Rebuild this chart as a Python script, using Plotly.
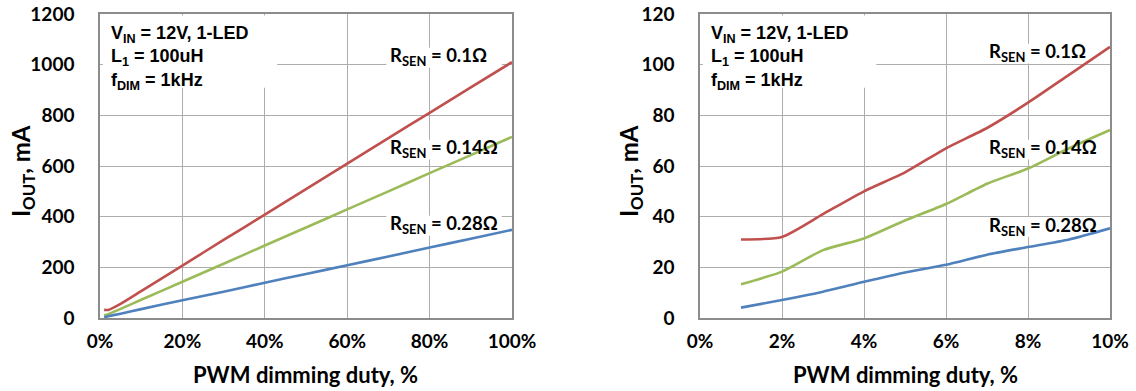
import plotly.graph_objects as go
from plotly.subplots import make_subplots

# left panel: full duty range (%), output current (mA)
duty_full = [1, 2, 5, 10, 20, 30, 40, 50, 60, 70, 80, 90, 100]
iout_full_r010 = [32, 32, 56, 106, 207, 308, 408, 509, 609, 710, 810, 910, 1010]
iout_full_r014 = [11, 15, 36, 72, 143, 214, 286, 357, 429, 500, 572, 643, 715]
iout_full_r028 = [3, 7, 17, 35, 70, 104, 139, 174, 208, 243, 278, 313, 348]

# right panel: low duty range (%)
duty_low = [1, 2, 3, 4, 5, 6, 7, 8, 9, 10]
iout_low_r010 = [31, 32, 41, 50, 57.5, 67, 75, 85, 96, 107]
iout_low_r014 = [13.3, 18.3, 26.8, 31.4, 38.5, 45, 53, 59, 67, 74.2]
iout_low_r028 = [4.1, 7.1, 10.4, 14.3, 18, 21, 25, 28, 31, 35.4]

series_names = ["R<sub>SEN</sub> = 0.1Ω", "R<sub>SEN</sub> = 0.14Ω", "R<sub>SEN</sub> = 0.28Ω"]
colors = ["#C0504D", "#9BBB59", "#4F81BD"]

TICK_FONT = dict(family="Lato", size=19, color="black")

fig = make_subplots(rows=1, cols=2)

for col, xs, ys_list in [
    (1, duty_full, [iout_full_r010, iout_full_r014, iout_full_r028]),
    (2, duty_low, [iout_low_r010, iout_low_r014, iout_low_r028]),
]:
    for name, ys, c in zip(series_names, ys_list, colors):
        fig.add_trace(go.Scatter(x=xs, y=ys, mode="lines", name=name,
                                 line=dict(color=c, width=2.6, shape="spline", smoothing=0.6),
                                 showlegend=False), row=1, col=col)

axis_common = dict(showgrid=True, gridcolor="#adadad", gridwidth=1,
                   showline=True, linecolor="#8c8c8c", linewidth=1.5, mirror=True,
                   zeroline=False, ticks="", tickfont=TICK_FONT, automargin=False)

fig.update_xaxes(**axis_common)
fig.update_yaxes(**axis_common)

fig.update_xaxes(row=1, col=1, range=[0, 100], dtick=20,
                 domain=[100 / 1136, 512 / 1136], ticklabelstandoff=5)
fig.update_xaxes(row=1, col=2, range=[0, 10], dtick=2,
                 domain=[700 / 1136, 1110 / 1136], ticklabelstandoff=5)
fig.update_yaxes(row=1, col=1, range=[0, 1200], dtick=200, ticklabelstandoff=20,
                 domain=[73 / 391, 377 / 391])
fig.update_yaxes(row=1, col=2, range=[0, 120], dtick=20, ticklabelstandoff=20,
                 domain=[73 / 391, 377 / 391])

fig.update_xaxes(tickprefix="<b>", ticksuffix="%</b>")
fig.update_yaxes(tickprefix="<b>", ticksuffix="</b>")

x_ranges = {"x": 100, "x2": 10}
y_ranges = {"y": 1200, "y2": 120}

shapes = []
annotations = []

# condition text boxes
cond_text = "<b>V<sub>IN</sub> = 12V, 1-LED</b><br><b>L<sub>1</sub> = 100uH</b><br><b>f<sub>DIM</sub> = 1kHz</b>"
for xa, ya in [("x", "y"), ("x2", "y2")]:
    xr, yr = x_ranges[xa], y_ranges[ya]
    shapes.append(dict(type="rect", xref=xa, yref=ya,
                       x0=0.007 * xr, x1=0.43 * xr, y0=0.757 * yr, y1=0.995 * yr,
                       fillcolor="white", line=dict(width=0), layer="between"))
    annotations.append(dict(xref=f"{xa} domain", yref=f"{ya} domain", x=0.022, y=0.978,
                            xanchor="left", yanchor="top", align="left", showarrow=False,
                            text=cond_text,
                            font=dict(family="Liberation Sans", size=18, color="black")))

# curve labels
label_pos = {
    "x": [0.859, 0.556, 0.306],
    "x2": [0.872, 0.556, 0.302],
}
for xa, ya in [("x", "y"), ("x2", "y2")]:
    xr, yr = x_ranges[xa], y_ranges[ya]
    for name, yv in zip(series_names, label_pos[xa]):
        shapes.append(dict(type="rect", xref=xa, yref=ya,
                           x0=0.695 * xr, x1=0.975 * xr, y0=(yv - 0.035) * yr, y1=(yv + 0.03) * yr,
                           fillcolor="white", line=dict(width=0), layer="between"))
        annotations.append(dict(xref=f"{xa} domain", yref=f"{ya} domain", x=0.7, y=yv,
                                xanchor="left", yanchor="middle", showarrow=False,
                                text="<b>" + name + "</b>",
                                font=dict(family="Lato", size=18.5, color="black")))

# axis titles
for xc in [306 / 1136, 905 / 1136]:
    annotations.append(dict(xref="paper", yref="paper", x=xc, y=1 - 374 / 391,
                            xanchor="center", yanchor="middle", showarrow=False,
                            text="<b>PWM dimming duty, %</b>",
                            font=dict(family="Lato", size=22, color="black")))
for xc in [22 / 1136, 630 / 1136]:
    annotations.append(dict(xref="paper", yref="paper", x=xc, y=1 - 171 / 391,
                            xanchor="center", yanchor="middle", showarrow=False, textangle=-90,
                            text="<b>I<sub>OUT</sub>, mA</b>",
                            font=dict(family="Lato", size=24, color="black")))

fig.update_layout(
    width=1136, height=391,
    margin=dict(l=0, r=0, t=0, b=0),
    plot_bgcolor="white", paper_bgcolor="white",
    font=dict(family="Lato", color="black"),
    shapes=shapes, annotations=annotations,
)

fig.write_html("out.html", config={"displayModeBar": False})

with open("out.html", encoding="utf-8") as f:
    page = f.read()
page = page.replace("<body>", '<body style="margin:0">', 1)
with open("out.html", "w", encoding="utf-8") as f:
    f.write(page)
